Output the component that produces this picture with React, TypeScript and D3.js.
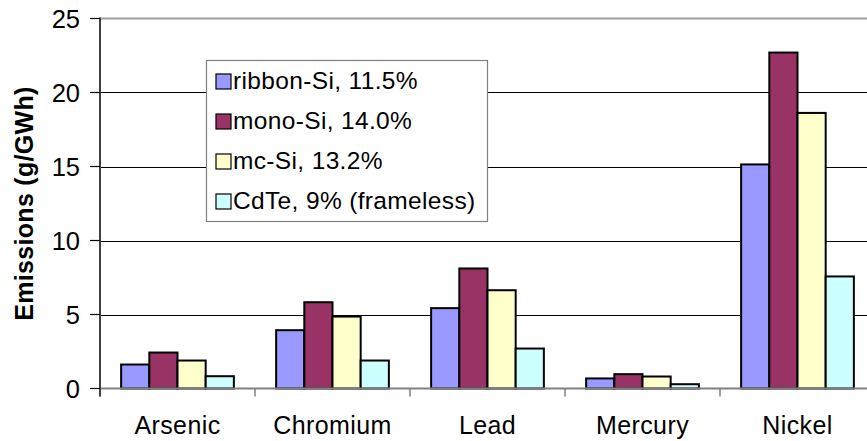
import React from "react";
import * as d3 from "d3";

const categories = ["Arsenic", "Chromium", "Lead", "Mercury", "Nickel"];
const seriesNames = [
  "ribbon-Si, 11.5%",
  "mono-Si, 14.0%",
  "mc-Si, 13.2%",
  "CdTe, 9% (frameless)",
];
const ribbonSi = [1.62, 3.94, 5.43, 0.68, 15.14];
const monoSi = [2.43, 5.83, 8.11, 0.97, 22.7];
const mcSi = [1.89, 4.86, 6.64, 0.81, 18.62];
const cdTe = [0.83, 1.89, 2.7, 0.29, 7.57];
const seriesValues = [ribbonSi, monoSi, mcSi, cdTe];
const seriesColors = ["#9999FF", "#993366", "#FFFFCC", "#CCFFFF"];
const yTicks = [0, 5, 10, 15, 20, 25];
const yTitle = "Emissions (g/GWh)";

const W = 867;
const H = 441;
const left = 100;
const right = 875;
const top = 18.5;
const bottom = 388.5;
const font = "Arial, 'Liberation Sans', sans-serif";

export default function App() {
  const x = d3.scaleBand<string>().domain(categories).range([left, right]).paddingInner(0).paddingOuter(0);
  const xs = d3
    .scaleBand<number>()
    .domain(seriesNames.map((_, i) => i))
    .range([0, x.bandwidth()])
    .paddingInner(0)
    .paddingOuter(0.75);
  const y = d3.scaleLinear().domain([0, 25]).range([bottom, top]);

  const catEdges = categories.map((c) => x(c) as number).concat([right]);

  return (
    <svg
      width={W}
      height={H}
      style={{ position: "absolute", left: 0, top: 0, background: "#fff" }}
      fontFamily={font}
    >
      {/* gridlines */}
      {yTicks
        .filter((t) => t > 0 && t < 25)
        .map((t) => (
          <line key={"g" + t} x1={left} x2={W} y1={Math.round(y(t)) + 0.5} y2={Math.round(y(t)) + 0.5} stroke="#000" strokeWidth={1.2} />
        ))}
      {/* top border */}
      <line x1={left} x2={W} y1={y(25)} y2={y(25)} stroke="#a0a0a0" strokeWidth={2} />

      {/* bars */}
      {seriesValues.map((vals, si) =>
        vals.map((v, ci) => {
          const bx = (x(categories[ci]) as number) + (xs(si) as number);
          return (
            <rect
              key={si + "-" + ci}
              x={bx}
              y={y(v)}
              width={xs.bandwidth()}
              height={bottom - y(v)}
              fill={seriesColors[si]}
              stroke="#000"
              strokeWidth={2}
            />
          );
        })
      )}

      {/* x axis */}
      <line x1={left} x2={W} y1={bottom} y2={bottom} stroke="#808080" strokeWidth={2} />
      {catEdges.map((e, i) => (
        <line key={"xt" + i} x1={e} x2={e} y1={bottom} y2={bottom + 8} stroke="#808080" strokeWidth={1.5} />
      ))}
      {categories.map((c) => (
        <text
          key={c}
          x={(x(c) as number) + x.bandwidth() / 2}
          y={434}
          textAnchor="middle"
          fontSize={25}
          letterSpacing={0.4}
          fill="#000"
        >
          {c}
        </text>
      ))}

      {/* y axis */}
      <line x1={left} x2={left} y1={top - 1} y2={bottom + 8} stroke="#404040" strokeWidth={2} />
      {yTicks.map((t) => (
        <g key={"yt" + t}>
          <line x1={left - 10} x2={left} y1={y(t)} y2={y(t)} stroke="#000" strokeWidth={1.2} />
          <text x={80} y={y(t)} dy="0.36em" textAnchor="end" fontSize={25.5} fill="#000">
            {t}
          </text>
        </g>
      ))}
      <text
        transform={`translate(33, ${(top + bottom) / 2}) rotate(-90)`}
        textAnchor="middle"
        fontSize={25}
        letterSpacing={0.3}
        fontWeight="bold"
        fill="#000"
      >
        {yTitle}
      </text>

      {/* legend */}
      <g>
        <rect x={206.5} y={60.5} width={281} height={161} fill="#fff" stroke="#808080" strokeWidth={1.2} />
        {seriesNames.map((n, i) => (
          <g key={n} transform={`translate(216, ${89 + i * 40})`}>
            <rect x={0} y={-15} width={15} height={15} fill={seriesColors[i]} stroke="#000" strokeWidth={1.2} />
            <text x={17} y={0} fontSize={24.5} letterSpacing={0.35} fill="#000">
              {n}
            </text>
          </g>
        ))}
      </g>
    </svg>
  );
}
